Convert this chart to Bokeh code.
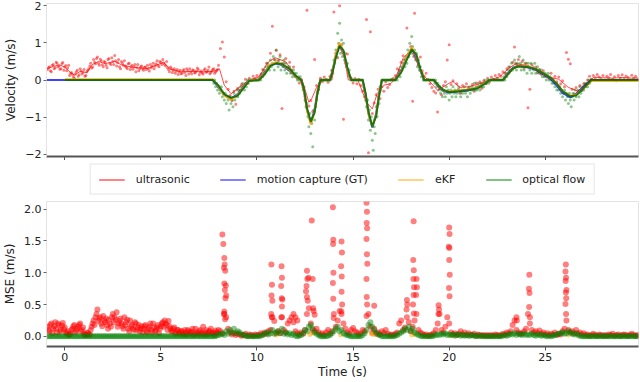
import numpy as np
from bokeh.plotting import figure
from bokeh.layouts import column
from bokeh.models import Range1d, FixedTicker, Legend, LegendItem
from bokeh.embed import file_html
from bokeh.resources import INLINE

# ---------------- data ----------------
# ultrasonic raw velocity, sampled every 0.1 s starting at -0.9 s
us_raw = [
    0.28, 0.36, 0.22, 0.42, 0.33, 0.45, 0.38, 0.30, 0.47, 0.35,
    0.25, 0.40, 0.18, 0.15, 0.05, 0.22, 0.10, 0.30, 0.16, 0.28,
    0.12, 0.26, 0.38, 0.32, 0.55, 0.44, 0.62, 0.40, 0.52, 0.36,
    0.48, 0.33, 0.58, 0.42, 0.50, 0.66, 0.38, 0.55, 0.30, 0.45,
    0.52, 0.34, 0.44, 0.28, 0.40, 0.36, 0.22, 0.42, 0.30, 0.38,
    0.26, 0.35, 0.40, 0.24, 0.33, 0.45, 0.38, 0.52, 0.36, 0.48,
    0.55, 0.42, 0.50, 0.28, 0.35, 0.20, 0.30, 0.24, 0.15, 0.26,
    0.18, 0.28, 0.12, 0.25, 0.30, 0.17, 0.26, 0.20, 0.32, 0.14,
    0.24, 0.16, 0.30, 0.22, 0.35, 0.20, 0.28, 0.18, 0.25, 0.40,
    0.85, 1.02, 0.62, -0.05, -0.25, -0.42, -0.55, -0.30, -0.65, -0.22,
    -0.28, -0.12, -0.20, 0.02, -0.08, 0.05, -0.02, 0.10, 0.04, 0.12,
    0.02, 0.15, 0.28, 0.22, 0.45, 0.38, 0.72, 1.45, 0.55, 0.80,
    0.52, 0.68, -0.77, 0.45, 0.58, 0.30, 0.48, 0.20, 0.35, 0.10,
    0.05, -0.08, 0.02, -0.20, -0.45, 1.88, -0.70, -0.55, -0.85, 0.55,
    -0.15, -0.25, 0.05, -0.05, 0.08, 0.02, -0.06, 0.10, 0.25, 1.83,
    0.72, 0.60, 2.00, 0.95, -1.06, 0.45, 0.70, 0.10, 0.05, -0.08,
    0.04, -0.10, 0.02, -0.15, -0.30, -0.45, 1.63, -1.96, 1.30, -0.90,
    -0.62, -0.40, -0.25, -0.50, -0.18, -0.30, -0.05, -0.20, -0.12, 0.02,
    0.05, 0.12, 0.30, 0.25, 0.48, 0.65, 0.55, 1.40, 0.72, 0.90,
    -0.57, 1.80, 0.58, 0.40, 0.62, 0.25, 0.10, 0.18, 0.02, -0.10,
    -0.20, -0.30, -0.35, -0.86, -0.22, -0.40, -0.15, -0.05, 0.54, 0.95,
    -0.12, -0.02, -0.30, -0.10, -0.25, -0.35, -0.15, -0.28, -0.10, -0.22,
    -0.25, -0.12, -0.30, -0.08, -0.18, -0.05, -0.22, -0.02, -0.10, 0.05,
    -0.05, 0.08, 0.02, 0.12, 0.05, 0.15, 0.10, 0.22, 0.18, 0.30,
    0.35, 0.25, 0.48, 0.89, 0.42, 0.55, 0.38, 0.50, 0.32, 0.45,
    -0.75, -0.25, 0.42, 0.30, 0.35, 0.20, 0.28, 0.15, 0.25, 0.10,
    0.12, 0.05, 0.18, 0.02, 0.10, -0.05, 0.08, -0.10, -0.02, -0.18,
    0.74, 0.56, 0.44, -0.25, -0.38, -0.20, -0.32, -0.15, -0.28, -0.10,
    -0.12, 0.00, 0.10, 0.02, 0.12, 0.05, 0.15, 0.08, 0.02, 0.12,
    0.00, 0.10, 0.06, 0.15, 0.02, 0.09, -0.02, 0.12, 0.05, 0.14,
    0.03, 0.11, 0.07, 0.00, 0.13, 0.05, 0.10, 0.02,
]
# extra ultrasonic samples between the above ones (t = -0.85 ... 7.95 s)
us_raw_b = [
    0.33, 0.25, 0.40, 0.30, 0.48, 0.36, 0.29, 0.44, 0.26, 0.39,
    0.32, 0.12, 0.20, 0.08, 0.16, 0.26, 0.14, 0.24, 0.20, 0.10,
    0.22, 0.30, 0.45, 0.35, 0.48, 0.58, 0.45, 0.56, 0.41, 0.50,
    0.40, 0.55, 0.45, 0.60, 0.42, 0.52, 0.47, 0.36, 0.50, 0.40,
    0.38, 0.30, 0.45, 0.36, 0.29, 0.42, 0.33, 0.25, 0.36, 0.30,
    0.34, 0.28, 0.31, 0.42, 0.37, 0.30, 0.44, 0.40, 0.50, 0.42,
    0.46, 0.38, 0.33, 0.22, 0.31, 0.26, 0.18, 0.28, 0.22, 0.17,
    0.25, 0.20, 0.30, 0.16, 0.22, 0.27, 0.19, 0.24, 0.28, 0.21,
    0.19, 0.27, 0.21, 0.26, 0.17, 0.24, 0.30, 0.22, 0.28,
]

# smoothed ultrasonic velocity
us_line_t = [-0.9, -0.6, -0.3, 0.0, 0.3, 0.5, 0.8, 1.15, 1.4, 1.75, 2.1, 2.6, 2.95, 3.45, 4.0, 4.3,
             4.8, 5.15, 5.5, 6.0, 6.7, 7.2, 7.7, 8.05, 8.3, 8.65, 9.1, 9.6, 10.1, 10.6, 10.95, 11.5,
             12.0, 12.35, 12.7, 12.85, 13.1, 13.4, 13.9, 14.1, 14.3, 14.55, 14.75, 15.25, 15.7, 16.0,
             16.25, 16.6, 16.95, 17.2, 17.6, 18.0, 18.3, 18.65, 19.0, 19.4, 19.95, 20.2, 20.55, 21.05,
             21.6, 22.1, 22.6, 23.1, 23.45, 24.1, 24.65, 25.2, 25.7, 26.2, 26.7, 27.2, 27.55, 28.0,
             28.5, 29.0, 29.5, 29.8]
us_line_v = [0.31, 0.36, 0.41, 0.35, 0.2, 0.13, 0.23, 0.2, 0.4, 0.5, 0.44, 0.5, 0.41, 0.35, 0.32, 0.31,
             0.41, 0.47, 0.29, 0.22, 0.23, 0.22, 0.23, 0.3, -0.14, -0.37, -0.19, 0.0, 0.08, 0.49, 0.6, 0.49,
             0.13, 0.0, -0.6, -0.5, -0.2, 0.0, 0.0, 0.67, 0.88, 0.6, 0.0, 0.0, -0.6, -0.78,
             -0.37, -0.14, -0.1, 0.03, 0.58, 0.8, 0.5, 0.13, -0.05, -0.28, -0.1, -0.04, -0.2, -0.18,
             -0.1, 0.0, 0.08, 0.31, 0.44, 0.39, 0.22, 0.08, 0.02, -0.2, -0.3, -0.05, 0.08, 0.06,
             0.05, 0.07, 0.05, 0.06]

# motion capture ground truth
gt_t = [-0.95, 7.7, 8.0, 8.3, 8.65, 9.0, 9.3, 9.6, 10.1, 10.4, 10.7, 11.0, 11.3, 11.7, 12.0, 12.3,
        12.45, 12.6, 12.8, 13.0, 13.15, 13.3, 13.8, 13.95, 14.1, 14.3, 14.5, 14.7, 14.9, 15.5, 15.65, 15.8,
        16.0, 16.2, 16.35, 16.5, 17.2, 17.5, 17.8, 18.05, 18.3, 18.5, 18.7, 19.2, 19.4, 19.7, 20.0, 20.5,
        21.0, 21.5, 21.8, 22.1, 22.8, 23.0, 23.3, 23.6, 24.0, 24.5, 24.9, 25.3, 25.6, 25.9, 26.3, 26.6,
        27.0, 27.4, 29.85]
gt_v = [0, 0, -0.2, -0.4, -0.5, -0.38, -0.18, 0, 0, 0.2, 0.4, 0.45, 0.4, 0.25, 0.1, 0,
        -0.3, -0.8, -1.15, -0.8, -0.3, 0, 0, 0.3, 0.65, 0.95, 0.75, 0.3, 0, 0, -0.4, -0.9,
        -1.28, -0.9, -0.4, 0, 0, 0.25, 0.6, 0.85, 0.6, 0.25, 0, 0, -0.15, -0.3, -0.33, -0.3,
        -0.28, -0.2, -0.1, 0, 0, 0.15, 0.32, 0.38, 0.35, 0.28, 0.15, 0.02, -0.15, -0.35, -0.47, -0.38,
        -0.18, 0, 0]
# estimates (start at t = 0)
est_t = [0.0] + gt_t[1:]
ekf_v = [0.02, 0.02, -0.18, -0.42, -0.53, -0.4, -0.2, 0, 0, 0.18, 0.42, 0.48, 0.42, 0.27, 0.1, 0,
         -0.3, -0.82, -1.2, -0.85, -0.3, 0, 0, 0.28, 0.68, 1.0, 0.78, 0.3, 0, 0, -0.38, -0.92,
         -1.25, -0.95, -0.42, 0, 0, 0.22, 0.62, 0.88, 0.65, 0.27, 0, 0, -0.13, -0.28, -0.3, -0.28,
         -0.26, -0.2, -0.1, 0, 0, 0.13, 0.3, 0.38, 0.37, 0.3, 0.18, 0.05, -0.1, -0.3, -0.42, -0.4,
         -0.22, -0.03, -0.03]
of_v = [0, 0, -0.15, -0.38, -0.48, -0.42, -0.22, -0.02, 0, 0.15, 0.38, 0.45, 0.43, 0.3, 0.12, 0,
        -0.25, -0.75, -1.12, -0.88, -0.35, 0, 0, 0.25, 0.6, 0.92, 0.8, 0.35, 0, 0, -0.35, -0.85,
        -1.25, -0.98, -0.45, 0, 0, 0.2, 0.55, 0.82, 0.68, 0.3, 0, 0, -0.12, -0.27, -0.32, -0.3,
        -0.27, -0.22, -0.12, 0, 0, 0.12, 0.3, 0.37, 0.36, 0.3, 0.18, 0.05, -0.1, -0.3, -0.44, -0.42,
        -0.22, 0, 0]

# optical flow raw velocity, every 0.05 s starting at 7.7 s
of_raw = (
    [0, -0.09, 0, -0.18, -0.09, -0.27, -0.18, -0.36, -0.27, -0.18, -0.45, -0.36, -0.54, -0.36, -0.63, -0.45, -0.54, -0.81, -0.45, -0.63]
    + [-0.54, -0.72, -0.36, -0.54, -0.45, -0.27, -0.45, -0.27, -0.36, -0.18, -0.27, -0.09, -0.18, -0.27, -0.09, -0.18, 0, -0.09, 0, 0]
    + [0] * 9 + [0.09, 0, 0.18, 0.09, 0.27, 0.18, 0.36, 0.27, 0.45, 0.36, 0.27]
    + [0.54, 0.36, 0.45, 0.63, 0.27, 0.54, 0.81, 0.45, 0.36, 0.54, 0.63, 0.27, 0.45, 0.36, 0.54, 0.27, 0.45, 0.18, 0.36, 0.27]
    + [0.36, 0.18, 0.27, 0.09, 0.27, 0.18, 0.09, 0.18, 0, 0.09, 0, 0.09, 0, -0.09, -0.27, -0.18, -0.54, -0.72, -0.63, -0.99]
    + [-1.26, -0.9, -1.44, -1.17, -1.8, -0.81, -1.08, -0.72, -0.54, -0.36, -0.27, -0.09, 0, 0, 0, 0, 0, 0, 0, 0]
    + [0, 0, 0, 0.09, 0.27, 0.18, 0.54, 0.45, 0.81, 0.63, 1.26, 0.99, 1.53, 0.72, 1.08, 0.63, 0.99, 0.54, 0.72, 0.36]
    + [0.45, 0.18, 0.27, 0.09, 0] + [0] * 12 + [-0.18, -0.27, -0.54]
    + [-0.72, -0.54, -1.08, -0.81, -1.35, -0.99, -1.62, -1.89, -1.26, -1.44, -0.72, -0.99, -0.45, -0.63, -0.18, -0.27, 0, 0, 0, 0]
    + [0] * 11 + [0.09, 0, 0.18, 0.27, 0.09, 0.36, 0.27, 0.45, 0.54]
    + [0.36, 0.63, 0.45, 0.81, 0.63, 0.99, 0.72, 1.17, 0.9, 0.63, 0.81, 0.54, 0.72, 0.36, 0.54, 0.27, 0.36, 0.09, 0.18, 0]
    + [0] * 11 + [-0.09, 0, -0.18, -0.09, -0.27, -0.18, -0.36, -0.27, -0.45]
    + [-0.27, -0.36, -0.45, -0.18, -0.36, -0.27, -0.54, -0.36, -0.27, -0.45, -0.18, -0.36, -0.27, -0.45, -0.36, -0.27, -0.18, -0.36, -0.45, -0.27]
    + [-0.36, -0.27, -0.18, -0.36, -0.27, -0.45, -0.27, -0.18, -0.36, -0.27, -0.18, -0.27, -0.09, -0.27, -0.18, -0.27, -0.09, -0.18, -0.27, -0.09]
    + [-0.18, -0.09, -0.18, 0, -0.09, -0.09, 0, -0.09, 0] + [0] * 11
    + [0, 0, 0, 0.09, 0, 0.18, 0.09, 0.27, 0.18, 0.36, 0.27, 0.45, 0.27, 0.36, 0.54, 0.45, 0.27, 0.45, 0.36, 0.63]
    + [0.45, 0.27, 0.36, 0.54, 0.27, 0.45, 0.36, 0.18, 0.45, 0.36, 0.27, 0.45, 0.18, 0.36, 0.27, 0.45, 0.18, 0.27, 0.36, 0.18]
    + [0.27, 0.18, 0.27, 0.09, 0.18, 0.09, 0.18, 0, 0.09, 0.18, 0, 0.09, 0, -0.09, 0, -0.09, -0.18, -0.09, -0.27, -0.18]
    + [-0.27, -0.18, -0.36, -0.27, -0.45, -0.36, -0.27, -0.54, -0.36, -0.45, -0.63, -0.36, -0.54, -0.72, -0.45, -0.36, -0.54, -0.27, -0.45, -0.36]
    + [-0.27, -0.45, -0.18, -0.36, -0.27, -0.18, -0.27, -0.09, -0.18, -0.09, -0.18, 0, -0.09, 0, 0, 0]
)

# MSE of ultrasonic, every 0.1 s starting at -0.9 s
mse_us = [
    0.15, 0.08, 0.20, 0.12, 0.22, 0.06, 0.18, 0.10, 0.21, 0.14,
    0.05, 0.02, 0.04, 0.12, 0.18, 0.09, 0.15, 0.20, 0.10, 0.04,
    0.02, 0.06, 0.03, 0.15, 0.25, 0.30, 0.42, 0.28, 0.20, 0.32,
    0.22, 0.18, 0.26, 0.15, 0.35, 0.30, 0.38, 0.20, 0.28, 0.16,
    0.30, 0.22, 0.12, 0.25, 0.18, 0.10, 0.20, 0.14, 0.08, 0.16,
    0.12, 0.18, 0.06, 0.15, 0.10, 0.20, 0.08, 0.14, 0.05, 0.16,
    0.22, 0.25, 0.18, 0.24, 0.12, 0.08, 0.14, 0.06, 0.10, 0.04,
    0.08, 0.03, 0.06, 0.10, 0.04, 0.07, 0.02, 0.12, 0.05, 0.08,
    0.04, 0.15, 0.06, 0.03, 0.08, 0.12, 0.05, 0.02, 0.06, 0.10,
    0.08, 0.04, 0.35, 0.30, 0.12, 0.06, 0.03, 0.05, 0.02, 0.04,
    0.03, 0.01, 0.02, 0.04, 0.01, 0.03, 0.02, 0.01, 0.03, 0.02,
    0.02, 0.05, 0.03, 0.06, 0.04, 0.08, 0.10, 0.30, 0.24, 0.05,
    0.08, 0.05, 0.30, 0.10, 0.06, 0.20, 0.25, 0.30, 0.22, 0.08,
    0.05, 0.03, 0.06, 0.04, 0.10, 0.35, 0.44, 0.20, 0.10, 0.08,
    0.12, 0.06, 0.03, 0.05, 0.02, 0.06, 0.10, 0.04, 0.08, 0.35,
    0.15, 0.25, 0.40, 0.35, 0.20, 0.12, 0.06, 0.04, 0.10, 0.13,
    0.08, 0.06, 0.03, 0.05, 0.10, 0.08, 0.32, 0.35, 0.15, 0.06,
    0.12, 0.04, 0.06, 0.03, 0.08, 0.05, 0.10, 0.04, 0.02, 0.03,
    0.02, 0.04, 0.06, 0.20, 0.25, 0.10, 0.14, 0.30, 0.22, 0.08,
    0.15, 0.25, 0.35, 0.10, 0.06, 0.04, 0.02, 0.03, 0.01, 0.02,
    0.03, 0.05, 0.10, 0.20, 0.35, 0.10, 0.06, 0.15, 0.30, 0.20,
    0.06, 0.03, 0.05, 0.02, 0.04, 0.08, 0.03, 0.06, 0.02, 0.05,
    0.03, 0.02, 0.04, 0.01, 0.03, 0.02, 0.01, 0.02, 0.01, 0.02,
    0.01, 0.02, 0.01, 0.03, 0.02, 0.01, 0.02, 0.04, 0.03, 0.06,
    0.05, 0.08, 0.18, 0.25, 0.10, 0.06, 0.04, 0.05, 0.08, 0.12,
    0.35, 0.20, 0.10, 0.06, 0.08, 0.05, 0.09, 0.04, 0.06, 0.03,
    0.05, 0.02, 0.04, 0.03, 0.06, 0.02, 0.04, 0.03, 0.08, 0.12,
    0.25, 0.10, 0.06, 0.08, 0.05, 0.10, 0.04, 0.06, 0.03, 0.05,
    0.02, 0.03, 0.01, 0.02, 0.04, 0.02, 0.01, 0.03, 0.02, 0.01,
    0.02, 0.01, 0.03, 0.02, 0.04, 0.01, 0.02, 0.03, 0.01, 0.02,
    0.03, 0.02, 0.01, 0.02, 0.04, 0.02, 0.01, 0.02,
]
# extra ultrasonic MSE samples in between (t = -0.85 ... 7.95 s)
mse_us_b = [
    0.10, 0.18, 0.05, 0.16, 0.12, 0.20, 0.08, 0.17, 0.11, 0.06,
    0.08, 0.03, 0.10, 0.16, 0.06, 0.12, 0.18, 0.08, 0.14, 0.02,
    0.05, 0.03, 0.10, 0.20, 0.18, 0.35, 0.24, 0.30, 0.16, 0.25,
    0.28, 0.12, 0.20, 0.30, 0.22, 0.26, 0.15, 0.24, 0.20, 0.12,
    0.18, 0.26, 0.08, 0.16, 0.12, 0.22, 0.10, 0.18, 0.12, 0.06,
    0.16, 0.08, 0.12, 0.20, 0.06, 0.14, 0.10, 0.18, 0.12, 0.20,
    0.15, 0.20, 0.10, 0.16, 0.08, 0.12, 0.04, 0.10, 0.06, 0.08,
    0.05, 0.10, 0.03, 0.08, 0.06, 0.12, 0.04, 0.06, 0.03, 0.10,
    0.06, 0.03, 0.10, 0.05, 0.08, 0.04, 0.06, 0.09, 0.05,
]
# large ultrasonic MSE spikes
spike_t = [8.2, 8.25, 8.3, 8.32, 8.28, 8.35, 8.3, 8.38, 8.33, 8.4, 8.36, 8.3, 8.28, 8.34,
           10.75, 10.78, 10.76, 10.8, 10.74, 10.77,
           11.28, 11.3, 11.26, 11.29, 11.32, 11.3, 11.27,
           11.9, 12.0, 12.1,
           12.85, 12.6, 12.68, 12.62, 12.58, 12.55, 12.6, 12.64, 12.9, 12.92, 12.95, 13.0,
           13.95, 13.97, 13.96, 13.98, 13.95, 13.97, 13.99,
           14.4, 14.42, 14.38, 14.41, 14.4, 14.43, 14.39,
           15.7, 15.72, 15.71, 15.73, 15.7, 15.72, 15.74, 15.7, 15.71, 15.73, 16.1,
           18.15, 18.13, 18.16, 18.14, 18.17, 18.15, 18.12, 18.16, 17.8, 17.82, 17.78, 18.3, 18.32, 18.28,
           19.45, 19.47, 19.44,
           20.0, 20.02, 19.98, 20.01, 20.0, 20.03, 19.99, 20.02,
           24.17, 24.15, 24.18, 24.16, 24.2,
           26.07, 26.05, 26.08, 26.06, 26.1, 26.07, 26.09, 26.05, 26.08,
           23.5, 23.52]
spike_v = [1.6, 1.45, 1.23, 1.13, 1.08, 1.03, 0.83, 0.8, 0.73, 0.64, 0.6, 0.39, 0.35, 0.27,
           1.13, 0.81, 0.64, 0.56, 0.35, 0.3,
           1.1, 0.92, 0.79, 0.6, 0.58, 0.47, 0.3,
           0.35, 0.3, 0.25,
           1.82, 1.03, 0.92, 0.9, 0.79, 0.71, 0.62, 0.56, 0.9, 0.44, 0.4, 0.34,
           2.03, 1.52, 1.45, 1.0, 0.84, 0.59, 0.29,
           1.49, 1.32, 1.1, 0.94, 0.7, 0.5, 0.39,
           2.1, 1.96, 1.78, 1.7, 1.53, 1.29, 1.14, 0.9, 0.62, 0.5, 0.48,
           1.81, 1.2, 1.04, 0.9, 0.77, 0.65, 0.5, 0.36, 0.57, 0.5, 0.42, 0.9, 0.77, 0.65,
           0.49, 0.42, 0.35,
           1.71, 1.61, 1.41, 1.39, 1.2, 0.97, 0.76, 0.63,
           0.97, 0.75, 0.68, 0.46, 0.3,
           1.13, 1.02, 0.92, 0.87, 0.73, 0.69, 0.6, 0.51, 0.35,
           0.3, 0.25]
# eKF MSE (small)
mse_ekf_t = [11.0, 12.75, 12.85, 14.35, 15.95, 16.05, 18.05, 18.2, 20.1, 26.2]
mse_ekf_v = [0.02, 0.03, 0.05, 0.02, 0.04, 0.03, 0.02, 0.03, 0.01, 0.02]
# optical flow MSE, every 0.1 s starting at -0.9 s
mse_of = (
    [0.0] * 88 + [0.01, 0.02]
    + [0.03, 0.05, 0.02, 0.08, 0.04, 0.10, 0.06, 0.12, 0.05, 0.08]
    + [0.06, 0.03, 0.02, 0.01, 0.0, 0.0, 0.0, 0.0, 0.0, 0.0]
    + [0.0, 0.01, 0.02, 0.04, 0.06, 0.03, 0.05, 0.10, 0.04, 0.06]
    + [0.08, 0.05, 0.12, 0.04, 0.06, 0.03, 0.05, 0.02, 0.04, 0.01]
    + [0.0, 0.01, 0.02, 0.05, 0.10, 0.08, 0.15, 0.18, 0.12, 0.06]
    + [0.04, 0.02, 0.0, 0.0, 0.0, 0.0, 0.01, 0.02, 0.05, 0.08]
    + [0.12, 0.15, 0.08, 0.10, 0.05, 0.03, 0.02, 0.01, 0.0, 0.0]
    + [0.0, 0.0, 0.0, 0.0, 0.02, 0.05, 0.10, 0.18, 0.22, 0.15]
    + [0.10, 0.06, 0.03, 0.02, 0.0, 0.0, 0.0, 0.0, 0.0, 0.0]
    + [0.0, 0.01, 0.02, 0.04, 0.06, 0.08, 0.12, 0.10, 0.15, 0.08]
    + [0.12, 0.06, 0.04, 0.02, 0.01, 0.0, 0.0, 0.0, 0.0, 0.0]
    + [0.0, 0.01, 0.02, 0.03, 0.02, 0.04, 0.03, 0.05, 0.02, 0.03]
    + [0.02, 0.03, 0.01, 0.02, 0.03, 0.01, 0.02, 0.01, 0.02, 0.01]
    + [0.01, 0.02, 0.01, 0.0, 0.01, 0.0, 0.01, 0.0, 0.0, 0.0]
    + [0.0, 0.0, 0.0, 0.0, 0.0, 0.0, 0.0, 0.01, 0.02, 0.01]
    + [0.02, 0.04, 0.03, 0.05, 0.02, 0.04, 0.03, 0.02, 0.04, 0.02]
    + [0.03, 0.02, 0.04, 0.02, 0.01, 0.03, 0.02, 0.01, 0.02, 0.01]
    + [0.0, 0.01, 0.0, 0.01, 0.02, 0.03, 0.04, 0.05, 0.06, 0.04]
    + [0.05, 0.08, 0.06, 0.04, 0.03, 0.05, 0.02, 0.01, 0.0, 0.0]
    + [0.0] * 28
)

vel_ticks = [-2, -1, 0, 1, 2]
mse_ticks = [0.0, 0.5, 1.0, 1.5, 2.0]
time_ticks = [0, 5, 10, 15, 20, 25]
legend_labels = ["ultrasonic", "motion capture (GT)", "eKF", "optical flow"]
legend_colors = ["red", "blue", "orange", "green"]

# sample times
t_us = np.round(-0.9 + 0.1 * np.arange(len(us_raw)), 3)
t_us_b = np.round(-0.85 + 0.1 * np.arange(len(us_raw_b)), 3)
t_mse = np.round(-0.9 + 0.1 * np.arange(len(mse_us)), 3)
t_mse_b = np.round(-0.85 + 0.1 * np.arange(len(mse_us_b)), 3)
t_mse_of = np.round(-0.9 + 0.1 * np.arange(len(mse_of)), 3)
t_of = np.round(7.7 + 0.05 * np.arange(len(of_raw)), 3)

FONT = "DejaVu Sans"
TXT = "#222222"
W = 640
XR = (-0.95, 29.85)


def style(p):
    p.xgrid.visible = False
    p.ygrid.visible = False
    p.outline_line_color = "#e3e3e3"
    p.background_fill_color = "white"
    p.border_fill_color = "white"
    for ax in p.axis:
        ax.major_label_text_font = FONT
        ax.major_label_text_font_size = "11px"
        ax.major_label_text_color = TXT
        ax.axis_label_text_font = FONT
        ax.axis_label_text_font_size = "12px"
        ax.axis_label_text_font_style = "normal"
        ax.axis_label_text_color = TXT
        ax.minor_tick_line_color = None
        ax.major_tick_in = 0
    p.yaxis.axis_line_color = "#e3e3e3"
    p.yaxis.major_tick_out = 3
    p.yaxis.major_tick_line_color = "#666666"
    p.yaxis.major_label_standoff = 2
    p.yaxis.axis_label_standoff = 4
    p.xaxis.axis_line_color = "#555555"
    p.xaxis.axis_line_width = 2
    p.xaxis.major_tick_out = 4
    p.xaxis.major_tick_line_color = "#555555"
    p.xaxis.ticker = FixedTicker(ticks=time_ticks)


# ---------------- top: velocity ----------------
p1 = figure(width=W, height=160, output_backend="svg", toolbar_location=None,
            x_range=Range1d(*XR), y_range=Range1d(-2.06, 2.06),
            min_border_left=38, min_border_right=2, min_border_top=3, min_border_bottom=0)
style(p1)
p1.yaxis.ticker = FixedTicker(ticks=vel_ticks)
p1.yaxis.major_label_overrides = {-2: "\u22122", -1: "\u22121", 0: "0", 1: "1", 2: "2"}
p1.yaxis.axis_label = "Velocity (m/s)"
p1.xaxis.major_label_overrides = {k: "" for k in time_ticks}
p1.xaxis.major_label_standoff = 0

p1.scatter(t_us, us_raw, size=3, color="red", alpha=0.5, line_color=None)
p1.scatter(t_us_b, us_raw_b, size=3, color="red", alpha=0.5, line_color=None)
p1.scatter(t_of, of_raw, size=3, color="green", alpha=0.45, line_color=None)
p1.line(us_line_t, us_line_v, color="red", alpha=0.7, line_width=1)
p1.line(gt_t, gt_v, color="blue", alpha=0.75, line_width=2)
p1.line(est_t, ekf_v, color="orange", alpha=0.85, line_width=2)
p1.line(est_t, of_v, color="#007000", alpha=0.85, line_width=2)

# ---------------- legend strip ----------------
pl = figure(width=W, height=38, output_backend="svg", toolbar_location=None,
            x_range=Range1d(0, 1), y_range=Range1d(0, 1),
            min_border_left=38, min_border_right=2, min_border_top=0, min_border_bottom=0)
pl.axis.visible = False
pl.xgrid.visible = False
pl.ygrid.visible = False
pl.outline_line_color = None
items = []
for lab, col in zip(legend_labels, legend_colors):
    # single-vertex line: draws nothing in the plot, only provides the legend sample
    r = pl.line(x=[-1.0], y=[-1.0], color=col, alpha=0.65, line_width=1.5)
    items.append(LegendItem(label=lab, renderers=[r]))
legend = Legend(items=items, orientation="horizontal", location="center",
                label_text_font=FONT, label_text_font_size="11px", label_text_color=TXT,
                glyph_width=26, glyph_height=10, label_height=10, label_standoff=11,
                spacing=30, padding=8, margin=0,
                border_line_color="#cccccc", border_line_width=1,
                background_fill_color="white", background_fill_alpha=1.0)
pl.add_layout(legend, "center")

# ---------------- bottom: MSE ----------------
p2 = figure(width=W, height=183, output_backend="svg", toolbar_location=None,
            x_range=Range1d(*XR), y_range=Range1d(-0.16, 2.12),
            min_border_left=38, min_border_right=2, min_border_top=3, min_border_bottom=0)
style(p2)
p2.yaxis.ticker = FixedTicker(ticks=mse_ticks)
p2.yaxis.major_label_overrides = {0: "0.0", 0.5: "0.5", 1: "1.0", 1.5: "1.5", 2: "2.0"}
p2.yaxis.axis_label = "MSE (m/s)"
p2.xaxis.axis_label = "Time (s)"
p2.xaxis.major_label_standoff = 2
p2.xaxis.axis_label_standoff = 1

p2.scatter(t_mse, mse_us, size=6, color="red", alpha=0.5, line_color=None)
p2.scatter(t_mse_b, mse_us_b, size=6, color="red", alpha=0.5, line_color=None)
p2.scatter(spike_t, spike_v, size=6, color="red", alpha=0.5, line_color=None)
p2.scatter(mse_ekf_t, mse_ekf_v, size=5, color="orange", alpha=0.5, line_color=None)
p2.scatter(t_mse_of, mse_of, size=6, color="green", alpha=0.45, line_color=None)

layout = column(p1, pl, p2, spacing=0)
open("out.html", "w").write(file_html(layout, INLINE))
